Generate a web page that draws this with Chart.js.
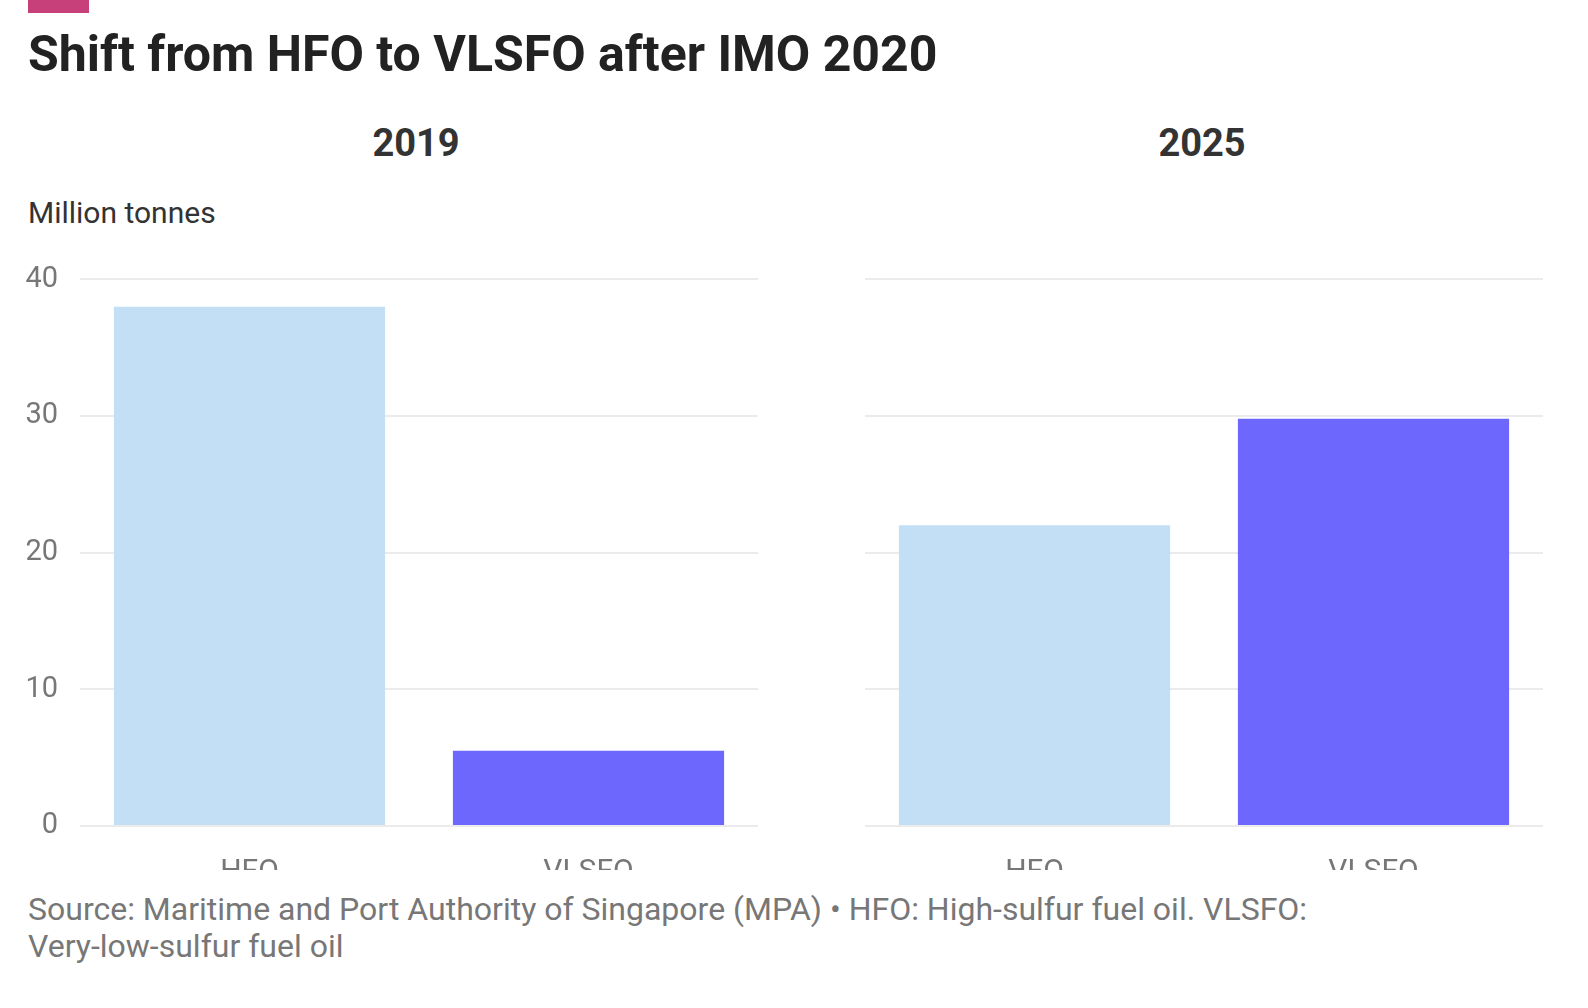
<!DOCTYPE html>
<html><head><meta charset="utf-8">
<script src="https://cdn.jsdelivr.net/npm/chart.js@4"></script>
<style>
body{margin:0;width:1588px;height:1008px;background:#fff;font-family:Roboto,sans-serif;position:relative;overflow:hidden}
.a{position:absolute;color:#333}
</style></head><body>
<div class="a" style="left:28px;top:0;width:61px;height:13px;background:#c8407a"></div>
<div class="a" style="left:28px;top:25px;font-size:50px;font-weight:bold;color:#222">Shift from HFO to VLSFO after IMO 2020</div>
<div class="a" style="left:316px;width:200px;text-align:center;top:121px;font-size:38px;font-weight:bold">2019</div>
<div class="a" style="left:1102px;width:200px;text-align:center;top:121px;font-size:38px;font-weight:bold">2025</div>
<div class="a" style="left:28px;top:195px;font-size:30px">Million tonnes</div>
<div class="a" style="left:20px;top:240px;width:740px;height:630px"><canvas id="c1"></canvas></div>
<div class="a" style="left:805px;top:240px;width:740px;height:630px"><canvas id="c2"></canvas></div>
<div class="a" style="left:28px;top:891px;font-size:32px;line-height:37px;color:#777;width:1500px">Source: Maritime and Port Authority of Singapore (MPA) • HFO: High-sulfur fuel oil. VLSFO:<br>Very-low-sulfur fuel oil</div>
<script>
const fuels = ['HFO', 'VLSFO'];
const values2019 = [38, 5.5];
const values2025 = [22, 29.8];
const yTicks = [0, 10, 20, 30, 40];
const colours = ['#c3dff5', '#6e67fe'];

function grafica(id, datos, colorY) {
  new Chart(document.getElementById(id), {
    type: 'bar',
    data: { labels: fuels, datasets: [{ data: datos, backgroundColor: colours, barPercentage: 0.8, categoryPercentage: 1 }] },
    options: {
      responsive: true, maintainAspectRatio: false, animation: false,
      layout: { padding: { top: 2, right: 2, bottom: 0, left: 0 } },
      plugins: { legend: { display: false }, tooltip: { enabled: false } },
      scales: {
        x: {
          grid: { display: false }, border: { display: false },
          ticks: { color: '#777', font: { family: 'Roboto', size: 30 }, padding: 20 },
          afterFit: s => { s.height = 44; }
        },
        y: {
          min: 0, max: 40,
          afterBuildTicks: s => { s.ticks = yTicks.map(v => ({ value: v })); },
          grid: { color: '#ebebeb', lineWidth: 2, drawTicks: false },
          border: { display: false },
          ticks: { color: colorY, font: { family: 'Roboto', size: 29 }, padding: 22 },
          afterFit: s => { s.width = 60; }
        }
      }
    }
  });
}
grafica('c1', values2019, '#777');
grafica('c2', values2025, 'rgba(0,0,0,0)');
</script>
</body></html>
